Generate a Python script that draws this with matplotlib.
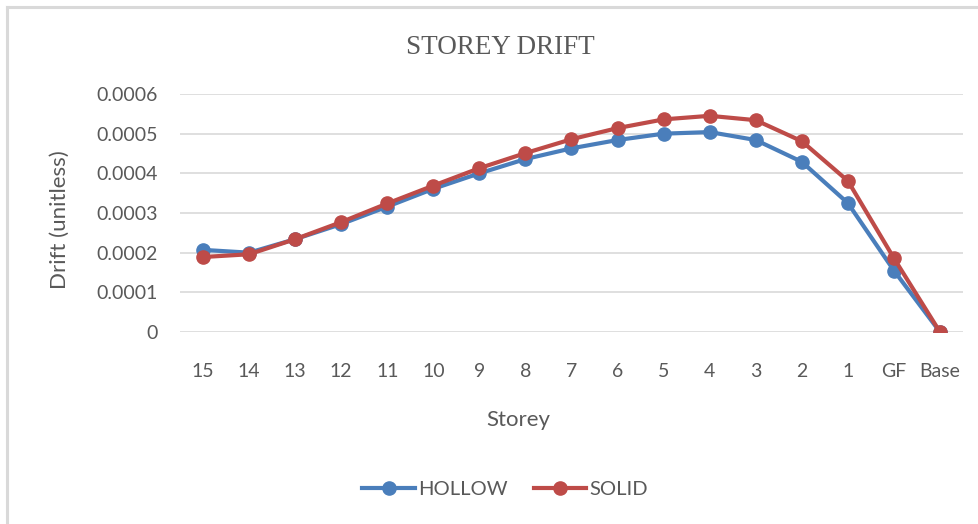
import matplotlib

matplotlib.use('Agg')
import matplotlib.pyplot as plt
from matplotlib.lines import Line2D

storeys = ['15', '14', '13', '12', '11', '10', '9', '8', '7', '6', '5', '4', '3', '2', '1', 'GF', 'Base']

hollow = [0.000207, 0.000200, 0.000234, 0.000272, 0.000316, 0.000361, 0.000400, 0.000436,
          0.000463, 0.000484, 0.000500, 0.000504, 0.000484, 0.000429, 0.000325, 0.000155, 0.0]
solid = [0.000189, 0.000196, 0.000234, 0.000277, 0.000324, 0.000369, 0.000413, 0.000451,
         0.000486, 0.000514, 0.000536, 0.000545, 0.000534, 0.000481, 0.000381, 0.000186, 0.0]

yticks = [0, 0.0001, 0.0002, 0.0003, 0.0004, 0.0005, 0.0006]
ytick_labels = ['0', '0.0001', '0.0002', '0.0003', '0.0004', '0.0005', '0.0006']

blue = '#4a7ebb'
red = '#be4b48'
txt = '#595959'
sans = ['Lato', 'DejaVu Sans']

fig = plt.figure(figsize=(9.79, 5.24), dpi=100)
ax = fig.add_axes([180 / 979, 192 / 524, 783 / 979, 238 / 524])

x = list(range(len(storeys)))
ax.plot(x, hollow, color=blue, lw=3.0, marker='o', ms=9.5, zorder=3)
ax.plot(x, solid, color=red, lw=3.0, marker='o', ms=9.5, zorder=4)

ax.set_xlim(-0.5, len(storeys) - 0.5)
ax.set_ylim(0, 0.0006)
ax.set_yticks(yticks)
ax.set_yticklabels(ytick_labels, family=sans, fontsize=14, color=txt)
ax.set_xticks(x)
ax.set_xticklabels(storeys, family=sans, fontsize=14, color=txt)
ax.tick_params(length=0, pad=16, axis='y')
ax.tick_params(length=0, pad=22, axis='x')
ax.grid(axis='y', color='#d9d9d9', lw=1.2)
ax.set_axisbelow(True)
for s in ax.spines.values():
    s.set_visible(False)

fig.text(500 / 979, 1 - 48 / 524, 'STOREY DRIFT', ha='center', va='center',
         family=['Liberation Serif', 'DejaVu Serif'], fontsize=19.5, color=txt)
fig.text(518 / 979, 1 - 420 / 524, 'Storey', ha='center', va='center',
         family=sans, fontsize=16, color=txt)
fig.text(60 / 979, 1 - 220 / 524, 'Drift (unitless)', ha='center', va='center',
         rotation=90, family=sans, fontsize=16, color=txt)

handles = [Line2D([], [], color=blue, lw=3.0, marker='o', ms=9.5),
           Line2D([], [], color=red, lw=3.0, marker='o', ms=9.5)]
fig.legend(handles, ['HOLLOW', 'SOLID'], loc='center', bbox_to_anchor=(505 / 979, 1 - 489 / 524),
           ncol=2, frameon=False, prop={'family': sans, 'size': 14.5}, labelcolor=txt,
           handlelength=2.6, handletextpad=0.15, columnspacing=1.3)

# frame border (top and left only, screenshot is cropped)
fig.add_artist(Line2D([7 / 979, 7 / 979], [0, 1 - 7 / 524], color='#d9d9d9', lw=2.2))
fig.add_artist(Line2D([7 / 979, 1], [1 - 7 / 524, 1 - 7 / 524], color='#d9d9d9', lw=2.2))

fig.savefig('out.png', dpi=100)
